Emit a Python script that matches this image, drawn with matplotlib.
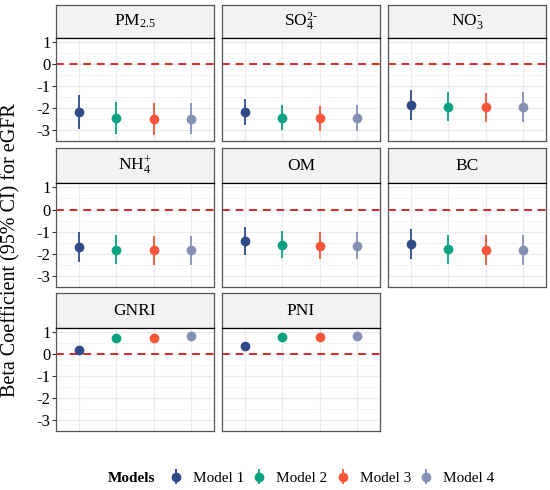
import matplotlib
matplotlib.use("Agg")
import matplotlib.pyplot as plt
import numpy as np

plt.rcParams['font.family'] = ['Liberation Serif', 'DejaVu Serif']
plt.rcParams['mathtext.fontset'] = 'custom'
plt.rcParams['mathtext.rm'] = 'Liberation Serif'
plt.rcParams['mathtext.it'] = 'Liberation Serif:italic'
plt.rcParams['axes.unicode_minus'] = False

# data
panels = ['PM$_{2.5}$', 'SO$_4^{2\\text{-}}$', 'NO$_3^{\\text{-}}$', 'NH$_4^{+}$', 'OM', 'BC', 'GNRI', 'PNI']
models = ['Model 1', 'Model 2', 'Model 3', 'Model 4']
colors = ['#2E4A87', '#0BA284', '#F9553A', '#8491B4']

est = [[-2.18, -2.43, -2.48, -2.48],
       [-2.18, -2.43, -2.46, -2.46],
       [-1.84, -1.94, -1.97, -1.96],
       [-1.67, -1.81, -1.85, -1.84],
       [-1.42, -1.60, -1.63, -1.63],
       [-1.55, -1.78, -1.81, -1.81],
       [0.18, 0.73, 0.73, 0.85],
       [0.37, 0.79, 0.79, 0.84]]
lower = [[-2.96, -3.18, -3.21, -3.20],
         [-2.76, -3.00, -3.03, -3.03],
         [-2.52, -2.61, -2.64, -2.64],
         [-2.36, -2.48, -2.51, -2.51],
         [-2.06, -2.21, -2.24, -2.24],
         [-2.24, -2.46, -2.49, -2.49],
         [0.15, 0.70, 0.70, 0.82],
         [0.34, 0.76, 0.76, 0.81]]
upper = [[-1.42, -1.72, -1.76, -1.76],
         [-1.58, -1.88, -1.91, -1.88],
         [-1.16, -1.28, -1.31, -1.28],
         [-1.01, -1.16, -1.21, -1.21],
         [-0.78, -0.99, -1.01, -1.01],
         [-0.87, -1.13, -1.16, -1.16],
         [0.21, 0.76, 0.76, 0.88],
         [0.40, 0.82, 0.82, 0.87]]

W, H = 550, 490
fig = plt.figure(figsize=(5.5, 4.9), dpi=100)

cols = [(56, 214), (222, 380), (388, 546)]
rows = [(5, 38, 141), (148, 183, 287), (293, 328, 431)]

def box(x0, x1, y0, y1):
    return [x0 / W, 1 - y1 / H, (x1 - x0) / W, (y1 - y0) / H]

handles = []
for i, name in enumerate(panels):
    r, c = divmod(i, 3)
    x0, x1 = cols[c]
    st, sb, pb = rows[r]
    # strip
    sax = fig.add_axes(box(x0, x1, st, sb))
    sax.set_facecolor('#F2F2F2')
    sax.set_xticks([]); sax.set_yticks([])
    for s in sax.spines.values():
        s.set_color('#555555'); s.set_linewidth(0.9)
    sax.text(0.5, 0.5, name, ha='center', va='center', fontsize=12.5, transform=sax.transAxes)

    ax = fig.add_axes(box(x0, x1, sb, pb))
    ax.set_xlim(0.4, 4.6)
    ax.set_ylim(-3.35, 1.2)
    ax.set_yticks([-3, -2, -1, 0, 1])
    ax.set_yticks(np.arange(-3.5, 1.5, 1.0), minor=True)
    ax.set_xticks([1, 2, 3, 4])
    ax.grid(True, which='major', color='#EBEBEB', lw=0.9, zorder=0)
    ax.grid(True, which='minor', axis='y', color='#F2F2F2', lw=0.6, zorder=0)
    ax.tick_params(axis='x', length=0, labelbottom=False)
    ax.tick_params(axis='y', which='minor', length=0)
    if c == 0:
        ax.tick_params(axis='y', which='major', length=3, color='#333333', labelsize=12, pad=1)
    else:
        ax.tick_params(axis='y', which='major', length=0, labelleft=False)
    for s in ax.spines.values():
        s.set_color('#555555'); s.set_linewidth(0.9)
    ax.spines['top'].set_color('black')
    ax.axhline(0, color='#D42A2A', ls=(0, (4, 3)), lw=1.4, zorder=2)
    for k in range(4):
        e = est[i][k]
        h = ax.errorbar(k + 1, e, yerr=[[e - lower[i][k]], [upper[i][k] - e]],
                        fmt='o', color=colors[k], ms=6, elinewidth=1.3, capsize=0, zorder=3)
        if i == 0:
            handles.append(h)

fig.text(0.02, 1 - 250 / H, 'Beta Coefficient (95% CI) for eGFR', rotation=90,
         ha='center', va='center', fontsize=14.5)

fig.text(108 / W, 1 - 478 / H, 'Models', fontweight='bold', fontsize=11, ha='left', va='center')
fig.legend(handles, models, loc='center', bbox_to_anchor=(332 / W, 1 - 478 / H), ncol=4,
           frameon=False, fontsize=11, handlelength=0.8, handletextpad=0.7, columnspacing=0.6)

fig.savefig('out.png', dpi=100)
